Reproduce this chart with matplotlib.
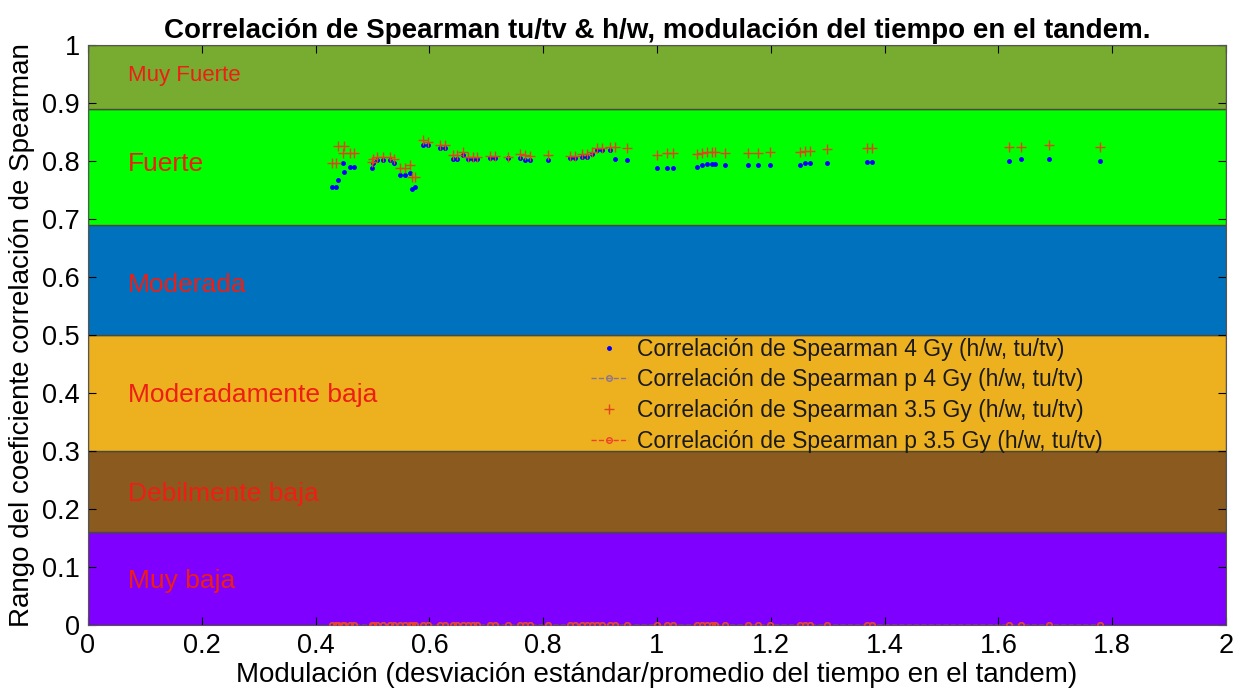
import numpy as np
import matplotlib
matplotlib.use("Agg")
import matplotlib.pyplot as plt

plt.rcParams['font.family'] = ['Liberation Sans', 'DejaVu Sans']

# modulation values (x) shared by all series
modulacion = [
    0.428, 0.436, 0.440, 0.448, 0.450, 0.460, 0.468, 0.499, 0.501, 0.508,
    0.519, 0.531, 0.538, 0.548, 0.557, 0.566, 0.569, 0.575, 0.589, 0.598,
    0.619, 0.627, 0.642, 0.648, 0.659, 0.668, 0.677, 0.684, 0.707, 0.715,
    0.738, 0.759, 0.768, 0.777, 0.808, 0.847, 0.856, 0.868, 0.877, 0.886,
    0.895, 0.903, 0.917, 0.926, 0.947, 1.000, 1.018, 1.028, 1.070, 1.079,
    1.088, 1.097, 1.102, 1.120, 1.160, 1.178, 1.199, 1.251, 1.260, 1.269,
    1.299, 1.369, 1.378, 1.619, 1.640, 1.689, 1.779,
]

# Spearman rho, 4 Gy
rho_4gy = [
    0.755, 0.755, 0.767, 0.797, 0.781, 0.790, 0.790, 0.788, 0.797, 0.802,
    0.802, 0.802, 0.797, 0.776, 0.776, 0.779, 0.752, 0.755, 0.828, 0.828,
    0.822, 0.822, 0.803, 0.803, 0.810, 0.803, 0.803, 0.803, 0.805, 0.805,
    0.805, 0.805, 0.802, 0.802, 0.802, 0.805, 0.805, 0.807, 0.807, 0.812,
    0.819, 0.819, 0.819, 0.803, 0.802, 0.788, 0.788, 0.788, 0.790, 0.793,
    0.795, 0.795, 0.795, 0.793, 0.793, 0.793, 0.793, 0.793, 0.797, 0.797,
    0.797, 0.798, 0.798, 0.800, 0.803, 0.803, 0.800,
]

# Spearman rho, 3.5 Gy
rho_35gy = [
    0.797, 0.797, 0.826, 0.814, 0.826, 0.814, 0.814, 0.798, 0.803, 0.807,
    0.807, 0.807, 0.803, 0.788, 0.788, 0.793, 0.772, 0.772, 0.836, 0.833,
    0.828, 0.828, 0.810, 0.810, 0.816, 0.807, 0.807, 0.807, 0.809, 0.809,
    0.807, 0.812, 0.810, 0.809, 0.810, 0.809, 0.809, 0.812, 0.812, 0.816,
    0.822, 0.822, 0.824, 0.824, 0.822, 0.810, 0.814, 0.814, 0.812, 0.814,
    0.816, 0.816, 0.816, 0.814, 0.814, 0.814, 0.816, 0.816, 0.817, 0.817,
    0.821, 0.822, 0.822, 0.824, 0.824, 0.828, 0.824,
]

# p values (all practically zero)
p_4gy = [
    0.0, 0.0, 0.0, 0.0, 0.0, 0.0, 0.0, 0.0, 0.0, 0.0,
    0.0, 0.0, 0.0, 0.0, 0.0, 0.0, 0.0, 0.0, 0.0, 0.0,
    0.0, 0.0, 0.0, 0.0, 0.0, 0.0, 0.0, 0.0, 0.0, 0.0,
    0.0, 0.0, 0.0, 0.0, 0.0, 0.0, 0.0, 0.0, 0.0, 0.0,
    0.0, 0.0, 0.0, 0.0, 0.0, 0.0, 0.0, 0.0, 0.0, 0.0,
    0.0, 0.0, 0.0, 0.0, 0.0, 0.0, 0.0, 0.0, 0.0, 0.0,
    0.0, 0.0, 0.0, 0.0, 0.0, 0.0, 0.0,
]
p_35gy = [
    0.0, 0.0, 0.0, 0.0, 0.0, 0.0, 0.0, 0.0, 0.0, 0.0,
    0.0, 0.0, 0.0, 0.0, 0.0, 0.0, 0.0, 0.0, 0.0, 0.0,
    0.0, 0.0, 0.0, 0.0, 0.0, 0.0, 0.0, 0.0, 0.0, 0.0,
    0.0, 0.0, 0.0, 0.0, 0.0, 0.0, 0.0, 0.0, 0.0, 0.0,
    0.0, 0.0, 0.0, 0.0, 0.0, 0.0, 0.0, 0.0, 0.0, 0.0,
    0.0, 0.0, 0.0, 0.0, 0.0, 0.0, 0.0, 0.0, 0.0, 0.0,
    0.0, 0.0, 0.0, 0.0, 0.0, 0.0, 0.0,
]

# correlation strength bands
band_names = ["Muy baja", "Debilmente baja", "Moderadamente baja",
              "Moderada", "Fuerte", "Muy Fuerte"]
band_low = [0.0, 0.16, 0.30, 0.50, 0.69, 0.89]
band_high = [0.16, 0.30, 0.50, 0.69, 0.89, 1.0]
band_colors = ["#7f00ff", "#8b5a1e", "#edb120", "#0072bd", "#00ff00", "#77ac30"]
label_y = [0.076, 0.226, 0.397, 0.587, 0.795, 0.948]
label_size = [19, 19, 19, 19, 19, 16]

fig = plt.figure(figsize=(12.34, 6.99), dpi=100)
ax = fig.add_axes([0.0713, 0.106, 0.9222, 0.8296])

for lo, hi, c in zip(band_low, band_high, band_colors):
    ax.axhspan(lo, hi, facecolor=c, edgecolor="#4a4a3a", linewidth=1.0, zorder=0)
for name, yy, fs in zip(band_names, label_y, label_size):
    ax.text(0.07, yy, name, color="#ee1e14", fontsize=fs, va="center", ha="left", zorder=1)

ax.plot(modulacion, rho_4gy, ".", color="#0000ff", markersize=5,
        label="Correlación de Spearman 4 Gy (h/w, tu/tv)", zorder=3)
ax.plot(modulacion, p_4gy, "--o", color="#8a7490", markersize=4, markerfacecolor="none",
        linewidth=1, label="Correlación de Spearman p 4 Gy (h/w, tu/tv)", zorder=3)
ax.plot(modulacion, rho_35gy, "+", color="#e0441c", markersize=7, markeredgewidth=1,
        label="Correlación de Spearman 3.5 Gy (h/w, tu/tv)", zorder=3)
ax.plot(modulacion, p_35gy, "--o", color="#f0402a", markersize=4, markerfacecolor="none",
        linewidth=1, label="Correlación de Spearman p 3.5 Gy (h/w, tu/tv)", zorder=3)

ax.set_xlim(0, 2)
ax.set_ylim(0, 1)
ax.set_xticks(np.arange(0, 2.01, 0.2))
ax.set_xticklabels(["0", "0.2", "0.4", "0.6", "0.8", "1", "1.2", "1.4", "1.6", "1.8", "2"])
ax.set_yticks(np.arange(0, 1.01, 0.1))
ax.set_yticklabels(["0", "0.1", "0.2", "0.3", "0.4", "0.5", "0.6", "0.7", "0.8", "0.9", "1"])
ax.tick_params(direction="in", top=True, right=True, labelsize=19.5, length=6, width=0.8, pad=6)
for s in ax.spines.values():
    s.set_linewidth(0.8)
    s.set_color("#555555")

ax.set_xlabel("Modulación (desviación estándar/promedio del tiempo en el tandem)", fontsize=20,
              labelpad=2)
ax.set_ylabel("Rango del coeficiente correlación de Spearman", fontsize=20, labelpad=5)
ax.set_title("Correlación de Spearman tu/tv & h/w, modulación del tiempo en el tandem.",
             fontsize=20, fontweight="bold", pad=5)

leg = ax.legend(loc="center left", bbox_to_anchor=(0.428, 0.396), frameon=False,
                fontsize=16.5, handlelength=1.6, labelspacing=0.33, handletextpad=0.4,
                borderpad=0.2)
for t in leg.get_texts():
    t.set_color("#1a1a1a")

fig.savefig("out.png", dpi=100)
